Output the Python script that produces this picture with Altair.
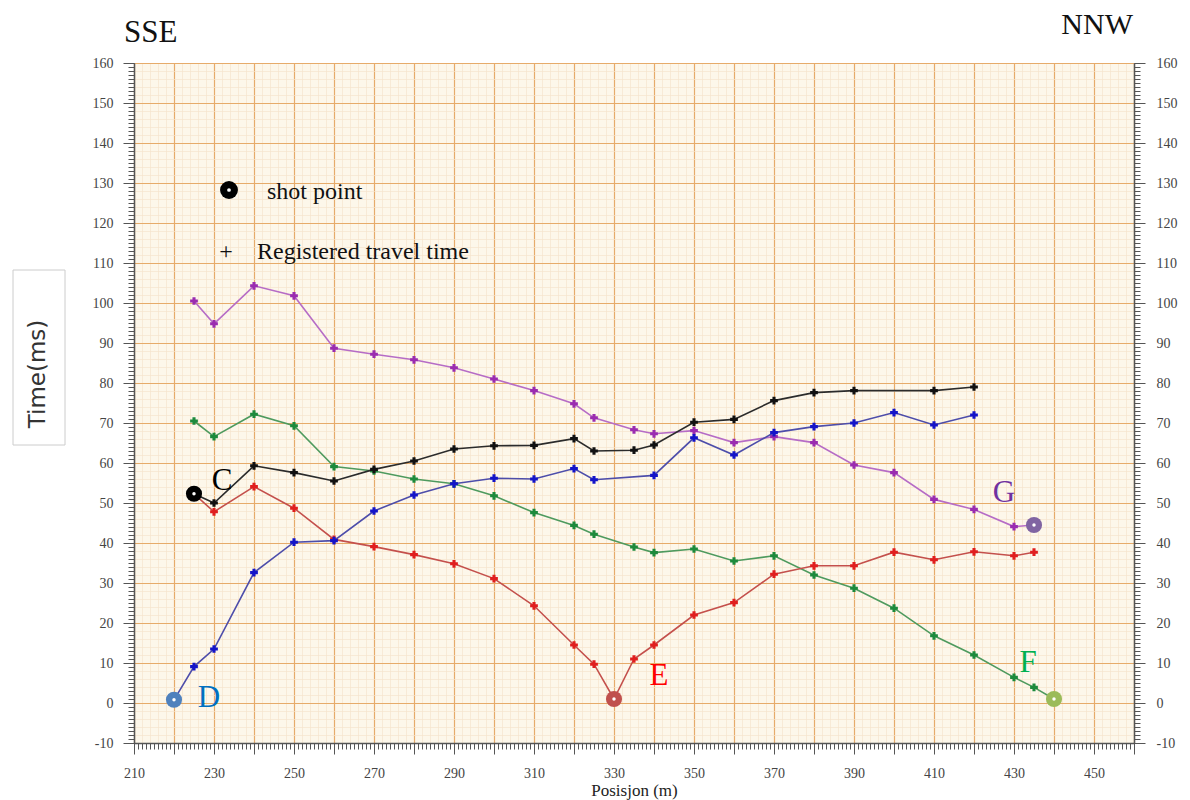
import altair as alt
import pandas as pd

# ---------------- data (position in m, travel time in ms) ----------------
C_pos = [225, 230, 240, 250, 260, 270, 280, 290, 300, 310, 320, 325, 335, 340, 350, 360, 370, 380, 390, 410, 420]
C_time = [52.3, 50.0, 59.3, 57.6, 55.5, 58.4, 60.5, 63.5, 64.3, 64.4, 66.1, 63.0, 63.2, 64.5, 70.2, 70.9, 75.6, 77.6, 78.1, 78.1, 79.0]

D_pos = [220, 225, 230, 240, 250, 260, 270, 280, 290, 300, 310, 320, 325, 340, 350, 360, 370, 380, 390, 400, 410, 420]
D_time = [0.8, 9.1, 13.5, 32.6, 40.2, 40.6, 48.0, 52.0, 54.8, 56.2, 56.0, 58.6, 55.8, 56.9, 66.3, 62.0, 67.6, 69.1, 70.0, 72.6, 69.5, 72.0]

E_pos = [225, 230, 240, 250, 260, 270, 280, 290, 300, 310, 320, 325, 330, 335, 340, 350, 360, 370, 380, 390, 400, 410, 420, 430, 435]
E_time = [52.3, 47.8, 54.1, 48.7, 40.9, 39.1, 37.1, 34.8, 31.1, 24.3, 14.5, 9.7, 1.0, 11.0, 14.5, 22.0, 25.1, 32.2, 34.3, 34.3, 37.7, 35.8, 37.8, 36.8, 37.7]

F_pos = [225, 230, 240, 250, 260, 270, 280, 290, 300, 310, 320, 325, 335, 340, 350, 360, 370, 380, 390, 400, 410, 420, 430, 435, 440]
F_time = [70.5, 66.6, 72.2, 69.3, 59.1, 58.0, 56.0, 54.8, 51.8, 47.6, 44.4, 42.2, 39.0, 37.6, 38.5, 35.5, 36.8, 32.0, 28.7, 23.7, 16.8, 12.0, 6.4, 3.9, 1.0]

G_pos = [225, 230, 240, 250, 260, 270, 280, 290, 300, 310, 320, 325, 335, 340, 350, 360, 370, 380, 390, 400, 410, 420, 430, 435]
G_time = [100.5, 94.8, 104.3, 101.8, 88.7, 87.2, 85.8, 83.8, 81.0, 78.1, 74.8, 71.3, 68.3, 67.3, 68.1, 65.1, 66.6, 65.1, 59.5, 57.6, 50.9, 48.4, 44.1, 44.5]

shot_names = ["C", "D", "E", "F", "G"]
shot_pos = [225, 220, 330, 440, 435]
shot_time = [52.3, 0.8, 1.0, 1.0, 44.5]

x_minor = list(range(210, 461, 1))
x_minor_grid = list(range(210, 461, 2))
x_major = list(range(210, 461, 10))
y_minor = list(range(-10, 161, 1))
y_minor_grid = list(range(-10, 161, 2))
y_major = list(range(-10, 161, 10))

# ---------------- styles ----------------
SERIF = "Liberation Serif"
AX = "#555555"
MINOR = "#f5e4cd"
MAJOR = "#e6ab6a"
line_color = {"C": "#2b2b2b", "D": "#4d4daa", "E": "#c4504c", "F": "#4e9a5e", "G": "#b66cc6"}
marker_color = {"C": "#111111", "D": "#1414c8", "E": "#e01e1e", "F": "#1d8a3c", "G": "#9a2cb0"}
shot_color = {"C": "#000000", "D": "#4F81BD", "E": "#C0504D", "F": "#9BBB59", "G": "#8064A2"}
label_color = {"C": "#000000", "D": "#0070C0", "E": "#FF0000", "F": "#00B050", "G": "#7030A0"}
label_offset = {"C": (28, -4), "D": (35, 7), "E": (45, -14), "F": (-26, -27), "G": (-30, -23)}

series = {
    "C": (C_pos, C_time), "D": (D_pos, D_time), "E": (E_pos, E_time),
    "F": (F_pos, F_time), "G": (G_pos, G_time),
}

shots = pd.DataFrame({"name": shot_names, "pos": shot_pos, "time": shot_time})
one = pd.DataFrame({"k": [0]})

xs = alt.Scale(domain=[210, 460], nice=False, zero=False)
ys = alt.Scale(domain=[-10, 160], nice=False, zero=False)

PLAIN = "'' + datum.value"


def axis_layer(xaxis, yaxis):
    if xaxis is None:
        xe = alt.X("pos:Q", scale=xs, axis=None)
    else:
        xe = alt.X("pos:Q", scale=xs, axis=xaxis)
    ye = alt.Y("time:Q", scale=ys, axis=yaxis)
    return alt.Chart(shots).mark_point(opacity=0).encode(x=xe, y=ye)


# axes
ax_x_minor_grid = alt.Axis(orient="bottom", values=x_minor_grid, grid=True, gridColor=MINOR, gridWidth=0.7,
                           ticks=False, labels=False, domain=False, title=None)
ax_y_minor_grid = alt.Axis(orient="left", values=y_minor_grid, grid=True, gridColor=MINOR, gridWidth=0.7,
                           ticks=False, labels=False, domain=False, title=None)

ax_x_major = alt.Axis(orient="bottom", values=x_major, grid=True, gridColor=MAJOR, gridWidth=1.2,
                      ticks=True, tickSize=11, tickColor=AX, tickWidth=1,
                      labels=True, labelExpr="(datum.value - 210) % 20 == 0 ? '' + datum.value : ''",
                      labelFont=SERIF, labelFontSize=14, labelColor="#444444", labelPadding=12,
                      labelFlush=False, labelOverlap=False, labelBound=False,
                      domain=False, title="Posisjon (m)", titleFont=SERIF, titleFontSize=17,
                      titleFontWeight="normal", titleColor="#222222", titleY=47, titleBaseline="middle")
ax_y_major = alt.Axis(orient="left", values=y_major, grid=True, gridColor=MAJOR, gridWidth=1.2,
                      ticks=True, tickSize=11, tickColor=AX, tickWidth=1,
                      labels=True, labelExpr=PLAIN, labelFont=SERIF, labelFontSize=14,
                      labelColor="#444444", labelPadding=10,
                      labelFlush=False, labelOverlap=False, labelBound=False,
                      domain=False, title=None)

ax_x_minor_ticks = alt.Axis(orient="bottom", values=x_minor, grid=False, ticks=True, tickSize=6,
                            tickColor=AX, tickWidth=1, labels=False, domain=True, domainColor=AX,
                            domainWidth=1.5, title=None)
ax_y_minor_ticks = alt.Axis(orient="left", values=y_minor, grid=False, ticks=True, tickSize=6,
                            tickColor=AX, tickWidth=1, labels=False, domain=True, domainColor=AX,
                            domainWidth=1.5, title=None)

ax_yr_minor = alt.Axis(orient="right", values=y_minor, grid=False, ticks=True, tickSize=6,
                       tickColor=AX, tickWidth=1, labels=False, domain=True, domainColor=AX,
                       domainWidth=1.5, title=None)
ax_yr_major = alt.Axis(orient="right", values=y_major, grid=False, ticks=True, tickSize=11,
                       tickColor=AX, tickWidth=1, labels=True, labelExpr=PLAIN, labelFont=SERIF,
                       labelFontSize=14, labelColor="#444444", labelPadding=11, labelFlush=False,
                       labelOverlap=False, labelBound=False, domain=False, title=None)

layers = [
    axis_layer(ax_x_minor_grid, ax_y_minor_grid),
    axis_layer(ax_x_major, ax_y_major),
    axis_layer(ax_x_minor_ticks, ax_y_minor_ticks),
    axis_layer(None, ax_yr_minor),
    axis_layer(None, ax_yr_major),
]

# y-axis title in a box
layers.append(alt.Chart(one).mark_rect(fill="white", stroke="#cccccc", strokeWidth=1).encode(
    x=alt.value(-121), x2=alt.value(-69), y=alt.value(207), y2=alt.value(382)))
layers.append(alt.Chart(one).mark_text(text="Time(ms)", angle=270, font="DejaVu Sans", fontSize=23,
                                       color="#333333", align="center", baseline="middle").encode(
    x=alt.value(-96), y=alt.value(311)))

# direction labels
layers.append(alt.Chart(one).mark_text(text="SSE", font=SERIF, fontSize=31, color="#111111",
                                       align="left", baseline="alphabetic").encode(
    x=alt.value(-10), y=alt.value(-21)))
layers.append(alt.Chart(one).mark_text(text="NNW", font=SERIF, fontSize=30, color="#111111",
                                       align="right", baseline="alphabetic").encode(
    x=alt.value(999), y=alt.value(-29)))

# legend
layers.append(alt.Chart(one).mark_point(shape="circle", filled=True, size=320, color="#000000", opacity=1).encode(
    x=alt.value(95), y=alt.value(127)))
layers.append(alt.Chart(one).mark_point(shape="circle", filled=True, size=14, color="#ffffff", opacity=1).encode(
    x=alt.value(95), y=alt.value(127)))
layers.append(alt.Chart(one).mark_text(text="shot point", font=SERIF, fontSize=24, color="#111111",
                                       align="left", baseline="alphabetic").encode(
    x=alt.value(133), y=alt.value(136)))
layers.append(alt.Chart(one).mark_text(text="+", font=SERIF, fontSize=24, color="#111111",
                                       align="center", baseline="alphabetic").encode(
    x=alt.value(92), y=alt.value(196)))
layers.append(alt.Chart(one).mark_text(text="Registered travel time", font=SERIF, fontSize=24,
                                       color="#111111", align="left", baseline="alphabetic").encode(
    x=alt.value(123), y=alt.value(196)))

# series lines + markers
for name in ["G", "F", "E", "D", "C"]:
    pos, tim = series[name]
    df = pd.DataFrame({"pos": pos, "time": tim})
    spos = shot_pos[shot_names.index(name)]
    mk = df[df["pos"] != spos]
    layers.append(alt.Chart(df).mark_line(color=line_color[name], strokeWidth=1.6).encode(
        x=alt.X("pos:Q", scale=xs, axis=None), y=alt.Y("time:Q", scale=ys, axis=None)))
    layers.append(alt.Chart(mk).mark_point(shape="cross", filled=True, size=60, color=marker_color[name],
                                           opacity=1).encode(
        x=alt.X("pos:Q", scale=xs, axis=None), y=alt.Y("time:Q", scale=ys, axis=None)))

# shot points
layers.append(alt.Chart(shots).mark_point(shape="circle", filled=True, size=260, opacity=1).encode(
    x=alt.X("pos:Q", scale=xs, axis=None), y=alt.Y("time:Q", scale=ys, axis=None),
    color=alt.Color("name:N", scale=alt.Scale(domain=shot_names, range=[shot_color[n] for n in shot_names]),
                    legend=None)))
layers.append(alt.Chart(shots).mark_point(shape="circle", filled=True, size=12, color="#ffffff", opacity=1).encode(
    x=alt.X("pos:Q", scale=xs, axis=None), y=alt.Y("time:Q", scale=ys, axis=None)))

# shot letters
for name in shot_names:
    dx, dy = label_offset[name]
    layers.append(alt.Chart(shots).transform_filter(alt.datum.name == name).mark_text(
        text=name, font=SERIF, fontSize=31, color=label_color[name], align="center",
        baseline="alphabetic", dx=dx, dy=dy).encode(
        x=alt.X("pos:Q", scale=xs, axis=None), y=alt.Y("time:Q", scale=ys, axis=None)))

chart = alt.layer(*layers).resolve_axis(x="independent", y="independent").properties(
    width=1000, height=680,
    autosize=alt.AutoSizeParams(type="none"),
    padding={"left": 126, "top": 55, "right": 48, "bottom": 57},
).configure_view(fill="#fdf7ea", stroke="transparent")

chart.save("out.html", embed_options={"renderer": "svg", "actions": False})
